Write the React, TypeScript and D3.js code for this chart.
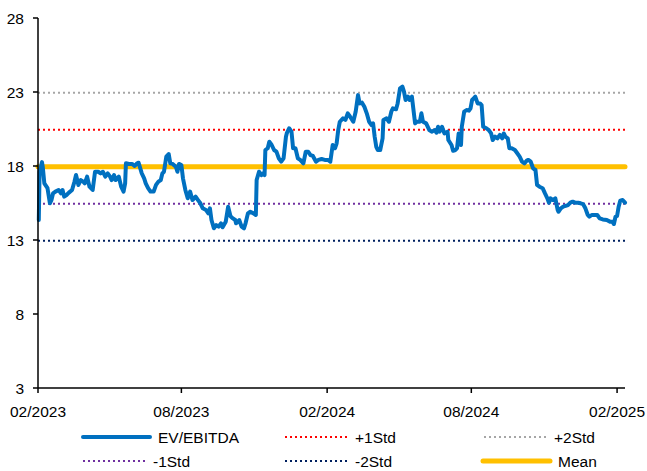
import * as d3 from 'd3';

const WIDTH = 647;
const HEIGHT = 471;
const MARGIN = { top: 18, right: 22, bottom: 83, left: 38 };

// EV/EBITDA series
const dates = [
  '2023-02-02', '2023-02-03', '2023-02-06', '2023-02-07', '2023-02-09', '2023-02-13', '2023-02-16', '2023-02-18',
  '2023-02-20', '2023-02-23', '2023-02-27', '2023-03-02', '2023-03-04', '2023-03-06', '2023-03-09', '2023-03-12',
  '2023-03-16', '2023-03-19', '2023-03-21', '2023-03-24', '2023-03-27', '2023-03-30', '2023-04-01', '2023-04-04',
  '2023-04-07', '2023-04-11', '2023-04-14', '2023-04-18', '2023-04-21', '2023-04-24', '2023-04-27', '2023-04-30',
  '2023-05-03', '2023-05-05', '2023-05-08', '2023-05-10', '2023-05-14', '2023-05-17', '2023-05-20', '2023-05-22',
  '2023-05-23', '2023-05-27', '2023-05-31', '2023-06-03', '2023-06-06', '2023-06-08', '2023-06-12', '2023-06-15',
  '2023-06-17', '2023-06-20', '2023-06-23', '2023-06-27', '2023-06-30', '2023-07-03', '2023-07-06', '2023-07-08',
  '2023-07-10', '2023-07-13', '2023-07-16', '2023-07-18', '2023-07-21', '2023-07-25', '2023-07-27', '2023-07-29',
  '2023-08-01', '2023-08-03', '2023-08-06', '2023-08-09', '2023-08-12', '2023-08-15', '2023-08-19', '2023-08-22',
  '2023-08-25', '2023-08-28', '2023-09-01', '2023-09-04', '2023-09-06', '2023-09-08', '2023-09-11', '2023-09-14',
  '2023-09-17', '2023-09-20', '2023-09-22', '2023-09-26', '2023-09-29', '2023-10-02', '2023-10-05', '2023-10-08',
  '2023-10-09', '2023-10-13', '2023-10-16', '2023-10-19', '2023-10-21', '2023-10-24', '2023-10-27', '2023-10-31',
  '2023-11-03', '2023-11-04', '2023-11-07', '2023-11-10', '2023-11-12', '2023-11-14', '2023-11-15', '2023-11-18',
  '2023-11-20', '2023-11-23', '2023-11-26', '2023-11-29', '2023-12-02', '2023-12-05', '2023-12-08', '2023-12-11',
  '2023-12-12', '2023-12-15', '2023-12-18', '2023-12-20', '2023-12-23', '2023-12-26', '2023-12-29', '2024-01-02',
  '2024-01-05', '2024-01-08', '2024-01-11', '2024-01-14', '2024-01-18', '2024-01-21', '2024-01-25', '2024-01-29',
  '2024-02-02', '2024-02-05', '2024-02-08', '2024-02-11', '2024-02-13', '2024-02-15', '2024-02-17', '2024-02-21',
  '2024-02-24', '2024-02-27', '2024-03-01', '2024-03-05', '2024-03-08', '2024-03-11', '2024-03-13', '2024-03-16',
  '2024-03-19', '2024-03-22', '2024-03-25', '2024-03-28', '2024-03-30', '2024-04-01', '2024-04-03', '2024-04-05',
  '2024-04-08', '2024-04-11', '2024-04-12', '2024-04-16', '2024-04-19', '2024-04-22', '2024-04-24', '2024-04-28',
  '2024-04-30', '2024-05-03', '2024-05-06', '2024-05-08', '2024-05-10', '2024-05-13', '2024-05-15', '2024-05-18',
  '2024-05-20', '2024-05-22', '2024-05-24', '2024-05-28', '2024-05-30', '2024-06-01', '2024-06-05', '2024-06-09',
  '2024-06-12', '2024-06-16', '2024-06-18', '2024-06-20', '2024-06-22', '2024-06-25', '2024-06-28', '2024-07-02',
  '2024-07-03', '2024-07-07', '2024-07-09', '2024-07-12', '2024-07-14', '2024-07-16', '2024-07-19', '2024-07-20',
  '2024-07-23', '2024-07-26', '2024-07-29', '2024-07-31', '2024-08-02', '2024-08-04', '2024-08-06', '2024-08-09',
  '2024-08-12', '2024-08-14', '2024-08-16', '2024-08-20', '2024-08-23', '2024-08-26', '2024-08-28', '2024-08-31',
  '2024-09-03', '2024-09-06', '2024-09-09', '2024-09-11', '2024-09-13', '2024-09-16', '2024-09-18', '2024-09-21',
  '2024-09-25', '2024-09-28', '2024-10-01', '2024-10-04', '2024-10-07', '2024-10-10', '2024-10-12', '2024-10-15',
  '2024-10-18', '2024-10-21', '2024-10-23', '2024-10-26', '2024-10-30', '2024-11-02', '2024-11-05', '2024-11-07',
  '2024-11-09', '2024-11-12', '2024-11-15', '2024-11-18', '2024-11-19', '2024-11-22', '2024-11-25', '2024-11-28',
  '2024-12-01', '2024-12-04', '2024-12-07', '2024-12-10', '2024-12-14', '2024-12-17', '2024-12-20', '2024-12-23',
  '2024-12-26', '2024-12-28', '2024-12-31', '2025-01-04', '2025-01-07', '2025-01-10', '2025-01-14', '2025-01-19',
  '2025-01-23', '2025-01-26', '2025-01-28', '2025-01-30', '2025-02-01', '2025-02-03', '2025-02-05', '2025-02-08',
  '2025-02-11',
];

const evEbitda = [
  14.35, 17.6, 18.26, 17.95, 16.83, 16.5, 15.48, 15.7,
  16.15, 16.27, 16.38, 16.15, 16.38, 15.93, 16.04, 16.2,
  16.38, 16.94, 17.39, 16.72, 17.05, 16.94, 16.83, 17.28,
  16.6, 16.38, 17.61, 17.61, 17.5, 17.61, 17.28, 17.5,
  17.28, 17.05, 17.39, 17.05, 17.28, 16.6, 16.27, 16.83,
  18.18, 18.14, 18.14, 18.0, 18.18, 18.22, 17.5, 17.17,
  16.83, 16.5, 16.27, 16.27, 16.72, 16.94, 17.05, 17.5,
  17.61, 18.63, 18.81, 18.18, 18.14, 17.95, 17.61, 18.14,
  18.07, 17.17, 16.38, 15.82, 16.27, 15.7, 15.93, 15.7,
  15.48, 15.14, 15.03, 14.8, 15.14, 14.35, 13.79, 14.01,
  13.9, 14.13, 13.86, 14.24, 15.25, 14.6, 14.46, 14.35,
  14.13, 14.35, 13.9, 13.79, 14.13, 14.8, 14.91, 14.8,
  14.69, 17.05, 17.61, 17.39, 17.5, 17.39, 19.08, 19.2,
  19.64, 19.42, 19.08, 18.97, 18.52, 18.29, 18.52, 19.98,
  20.2, 20.55, 20.32, 19.2, 19.2, 18.52, 18.41, 18.18,
  18.97, 18.97, 18.74, 18.68, 18.29, 18.41, 18.47, 18.41,
  18.41, 18.29, 19.42, 19.2, 19.53, 20.43, 20.99, 21.22,
  21.11, 21.56, 21.33, 20.99, 21.67, 22.79, 22.23, 22.28,
  22.0, 21.56, 20.99, 20.77, 20.88, 19.98, 19.3, 19.08,
  19.08, 19.87, 21.11, 21.22, 20.99, 21.67, 21.9, 21.83,
  22.23, 23.25, 23.36, 23.02, 22.46, 22.68, 22.46, 22.68,
  21.78, 20.88, 20.99, 20.99, 21.56, 20.99, 20.88, 20.43,
  20.32, 20.43, 20.25, 20.65, 20.32, 20.65, 20.2, 20.32,
  19.76, 19.42, 19.03, 19.08, 19.2, 20.2, 19.42, 20.65,
  21.67, 21.78, 21.74, 21.9, 22.46, 22.57, 22.68, 22.23,
  22.23, 22.12, 20.65, 20.55, 20.43, 20.2, 19.76, 19.98,
  19.87, 20.1, 19.87, 20.2, 19.98, 19.87, 19.2, 19.2,
  19.08, 18.86, 18.63, 18.29, 18.18, 18.36, 18.41, 18.29,
  17.84, 17.73, 16.72, 16.6, 16.5, 16.15, 15.82, 15.52,
  15.82, 15.7, 15.82, 15.03, 14.91, 15.14, 15.25, 15.3,
  15.36, 15.52, 15.59, 15.52, 15.52, 15.48, 15.43, 15.14,
  14.69, 14.57, 14.69, 14.69, 14.69, 14.46, 14.39, 14.35,
  14.24, 14.24, 14.08, 14.57, 14.62, 15.25, 15.66, 15.7,
  15.52,
];

const MEAN = 17.95;
const STD = 2.5;

const yTicks = [3, 8, 13, 18, 23, 28];
const xTicks = ['2023-02-01', '2023-08-01', '2024-02-01', '2024-08-01', '2025-02-01'];
const xDomain = ['2023-02-01', '2025-02-11'];

const bands = [
  { key: 'p1', label: '+1Std', value: MEAN + STD, color: '#FF0000' },
  { key: 'p2', label: '+2Std', value: MEAN + 2 * STD, color: '#A6A6A6' },
  { key: 'm1', label: '-1Std', value: MEAN - STD, color: '#7030A0' },
  { key: 'm2', label: '-2Std', value: MEAN - 2 * STD, color: '#002060' },
];

const BLUE = '#0070C0';
const GOLD = '#FFC000';
const FONT = '"Liberation Sans", Arial, sans-serif';

const parse = d3.utcParse('%Y-%m-%d');
const fmt = d3.utcFormat('%m/%Y');

const App = () => {
  const boundsWidth = WIDTH - MARGIN.left - MARGIN.right;
  const boundsHeight = HEIGHT - MARGIN.top - MARGIN.bottom;

  const xScale = d3
    .scaleUtc()
    .domain(xDomain.map((d) => parse(d) as Date))
    .range([0, boundsWidth]);
  const yScale = d3.scaleLinear().domain([3, 28]).range([boundsHeight, 0]);

  const data = dates.map((d, i) => ({ date: parse(d) as Date, value: evEbitda[i] }));
  const linePath = d3
    .line<{ date: Date; value: number }>()
    .x((d) => xScale(d.date))
    .y((d) => yScale(d.value))(data);

  // legend rows
  const legend = [
    { label: 'EV/EBITDA', color: BLUE, width: 4, dash: null, x: 83, y: 437, len: 67 },
    { label: '+1Std', color: bands[0].color, width: 2, dash: '2 3', x: 285, y: 437, len: 62 },
    { label: '+2Std', color: bands[1].color, width: 2, dash: '2 3', x: 484, y: 437, len: 62 },
    { label: '-1Std', color: bands[2].color, width: 2, dash: '2 3', x: 83, y: 461, len: 62 },
    { label: '-2Std', color: bands[3].color, width: 2, dash: '2 3', x: 285, y: 461, len: 62 },
    { label: 'Mean', color: GOLD, width: 5, dash: null, x: 483, y: 461, len: 67 },
  ];

  return (
    <svg
      width={WIDTH}
      height={HEIGHT}
      style={{ position: 'absolute', left: 0, top: 0, background: '#fff' }}
      fontFamily={FONT}
    >
      <g transform={`translate(${MARGIN.left},${MARGIN.top})`}>
        {/* std bands */}
        {bands.map((b) => (
          <line
            key={b.key}
            x1={0}
            x2={boundsWidth}
            y1={yScale(b.value)}
            y2={yScale(b.value)}
            stroke={b.color}
            strokeWidth={2}
            strokeDasharray="2 3"
          />
        ))}
        {/* mean */}
        <line
          x1={0}
          x2={boundsWidth}
          y1={yScale(MEAN)}
          y2={yScale(MEAN)}
          stroke={GOLD}
          strokeWidth={5}
          strokeLinecap="round"
        />
        <path
          d={linePath || ''}
          fill="none"
          stroke={BLUE}
          strokeWidth={4}
          strokeLinejoin="round"
          strokeLinecap="round"
        />

        {/* y axis */}
        <line x1={0} x2={0} y1={0} y2={boundsHeight} stroke="#000" strokeWidth={1.5} />
        {yTicks.map((t) => (
          <g key={t} transform={`translate(0,${yScale(t)})`}>
            <line x1={-5} x2={0} stroke="#000" strokeWidth={1.5} />
            <text x={-14} dy="0.36em" textAnchor="end" fontSize={15.5} fill="#000">
              {t}
            </text>
          </g>
        ))}

        {/* x axis */}
        <line x1={0} x2={boundsWidth} y1={boundsHeight} y2={boundsHeight} stroke="#000" strokeWidth={1.5} />
        {xTicks.map((t) => {
          const x = xScale(parse(t) as Date);
          return (
            <g key={t} transform={`translate(${x},${boundsHeight})`}>
              <line y1={0} y2={5} stroke="#000" strokeWidth={1.5} />
              <text y={29} textAnchor="middle" fontSize={15.5} fill="#000">
                {fmt(parse(t) as Date)}
              </text>
            </g>
          );
        })}
      </g>

      {/* legend */}
      {legend.map((l) => (
        <g key={l.label}>
          <line
            x1={l.x}
            x2={l.x + l.len}
            y1={l.y}
            y2={l.y}
            stroke={l.color}
            strokeWidth={l.width}
            strokeDasharray={l.dash || undefined}
            strokeLinecap={l.dash ? 'butt' : 'round'}
          />
          <text x={l.x + l.len + 8} y={l.y} dy="0.36em" fontSize={15.5} fill="#000">
            {l.label}
          </text>
        </g>
      ))}
    </svg>
  );
};

export default App;
